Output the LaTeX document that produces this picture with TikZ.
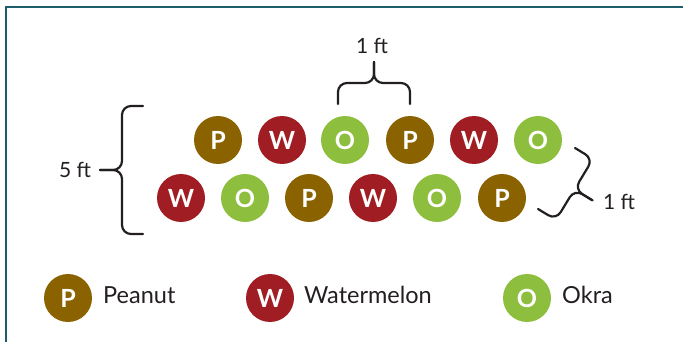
\documentclass[tikz,border=0pt]{standalone}
\usepackage{fontspec}
\setmainfont{Lato}
\definecolor{peanut}{HTML}{8B6200}
\definecolor{melon}{HTML}{A01E23}
\definecolor{okra}{HTML}{8DBE3E}
\definecolor{frame}{HTML}{1C5F6B}
\definecolor{ink}{HTML}{231F20}
\tikzset{
  plant/.style={circle, minimum size=48pt, inner sep=0pt, text=white, font=\fontsize{25}{25}\selectfont\bfseries},
  pnode/.style={plant, fill=peanut},
  wnode/.style={plant, fill=melon},
  onode/.style={plant, fill=okra},
  dimlabel/.style={text=ink, font=\fontsize{21}{21}\selectfont, inner sep=0pt},
  legendlabel/.style={text=ink, font=\fontsize{23.5}{23.5}\selectfont, inner sep=0pt, anchor=west},
  bracepath/.style={draw=ink, line width=2.2pt, rounded corners=9pt, line cap=round}
}
\begin{document}
\begin{tikzpicture}[x=1pt,y=-1pt]
\useasboundingbox (0,0) rectangle (683,342);
% frame
\draw[frame, line width=2pt] (683,7) -- (6,7) -- (6,342);
% top row
\node[pnode] (t1) at (218,140) {P};
\node[wnode] (t2) at (282,140) {W};
\node[onode] (t3) at (345,140) {O};
\node[pnode] (t4) at (410,140) {P};
\node[wnode] (t5) at (474,140) {W};
\node[onode] (t6) at (538,140) {O};
% bottom row
\node[wnode] (b1) at (181,198) {W};
\node[onode] (b2) at (245,198) {O};
\node[pnode] (b3) at (309,198) {P};
\node[wnode] (b4) at (373,198) {W};
\node[onode] (b5) at (437,198) {O};
\node[pnode] (b6) at (502,198) {P};
% top brace
\draw[bracepath] (338,104) -- (338,83) -- (374,83) -- (374,62);
\draw[bracepath] (410,104) -- (410,83) -- (374,83) -- (374,62);
\node[dimlabel] (ltop) at (372,46) {1 ft};
% left brace
\draw[bracepath] (143,106) -- (122,106) -- (122,170) -- (100,170);
\draw[bracepath] (143,234) -- (122,234) -- (122,170) -- (100,170);
\node[dimlabel] (lleft) at (75,170) {5 ft};
% right brace (tilted)
\draw[bracepath] (575,148) -- (593,158.9) -- (574.5,189.4) -- (592.4,200.3);
\draw[bracepath] (538,209) -- (556,219.9) -- (574.5,189.4) -- (592.4,200.3);
\node[dimlabel] (lright) at (619,202) {1 ft};
% legend
\node[pnode] (kp) at (68,298) {P};
\node[legendlabel] (kpl) at (103,295) {Peanut};
\node[wnode] (kw) at (270,298) {W};
\node[legendlabel] (kwl) at (304,295) {Watermelon};
\node[onode] (ko) at (527,298) {O};
\node[legendlabel] (kol) at (562,295) {Okra};
\end{tikzpicture}
\end{document}
